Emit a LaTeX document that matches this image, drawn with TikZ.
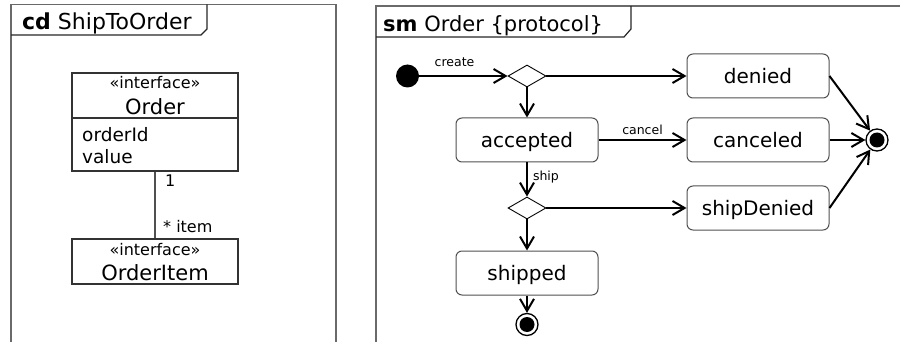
\documentclass[tikz,border=0pt]{standalone}
\usepackage{fontspec}
\setmainfont{DejaVu Sans}
\usetikzlibrary{arrows.meta,shapes.geometric}
\definecolor{framegray}{HTML}{6A6A6A}
\definecolor{boxgray}{HTML}{505050}
\newcommand\fsz[1]{\fontsize{#1}{#1}\selectfont}

\begin{document}
\begin{tikzpicture}[x=1pt,y=-1pt,
  frameline/.style={draw=framegray,line width=1.6pt},
  tabline/.style={draw=black!85,line width=1.2pt},
  titletext/.style={anchor=base west,inner sep=0pt,font=\fsz{21}},
  classbox/.style={draw=black!80,line width=1.2pt,minimum width=166pt,inner sep=0pt},
  ctext/.style={anchor=base,inner sep=0pt},
  atext/.style={anchor=base west,inner sep=0pt,font=\fsz{18.5}},
  stereo/.style={ctext,font=\fsz{16}},
  cname/.style={ctext,font=\fsz{21}},
  mult/.style={anchor=base west,inner sep=0pt,font=\fsz{16}},
  assoc/.style={draw=boxgray,line width=1.2pt},
  statebox/.style={draw=boxgray,line width=1pt,rounded corners=6pt,minimum width=142pt,minimum height=44pt,inner sep=0pt,text height=15pt,text depth=0pt,font=\fsz{20}},
  choice/.style={diamond,draw=black,line width=0.9pt,minimum width=38pt,minimum height=22pt,inner sep=0pt},
  startstate/.style={circle,fill=black,minimum size=23pt,inner sep=0pt},
  endstate/.style={circle,draw=black,line width=1.3pt,minimum size=22pt,inner sep=0pt},
  trans/.style={draw=black,line width=2pt,-{Straight Barb[length=12pt,width=14pt]}},
  lab/.style={font=\fsz{12.5},inner sep=1pt},
]
\useasboundingbox (0,0) rectangle (900,342);

% ---- class diagram frame ----
\draw[frameline] (11,342) -- (11,4.5) -- (336,4.5) -- (336,342);
\draw[tabline] (207,4.5) -- (207,29) -- (201,35) -- (11,35);
\node[titletext,font=\fsz{22}] (cdtitle) at (22,30) {\textbf{cd} ShipToOrder};

% Order interface
\node[classbox,minimum height=45pt] (orderhead) at (155,95.5) {};
\node[classbox,minimum height=53pt] (orderattr) at (155,144.5) {};
\node[stereo] (ordster) at (155,89) {«interface»};
\node[cname] (ordname) at (155,115) {Order};
\node[atext] (attrid) at (82,142) {orderId};
\node[atext] (attrval) at (82,164) {value};

% OrderItem interface
\node[classbox,minimum height=45pt] (item) at (155,261.5) {};
\node[stereo] (itemster) at (155,255) {«interface»};
\node[cname] (itemname) at (155,280) {OrderItem};

% association
\draw[assoc] (orderattr.south) -- (item.north);
\node[mult] (multone) at (165,186) {1};
\node[mult] (multmany) at (163,232) {* item};

% ---- state machine frame ----
\draw[frameline] (376,342) -- (376,6) -- (900,6);
\draw[tabline] (631,6) -- (631,29) -- (624,37) -- (376,37);
\node[titletext] (smtitle) at (383,32) {\textbf{sm} Order \{protocol\}};

\node[startstate] (init) at (407.5,76) {};
\node[choice] (d1) at (527,76) {};
\node[statebox] (denied) at (758,76) {denied};
\node[statebox] (accepted) at (527,140) {accepted};
\node[statebox] (canceled) at (758,140) {canceled};
\node[endstate] (fin1) at (877,140) {};
\fill (fin1.center) circle (7.5pt);
\node[choice] (d2) at (527,208) {};
\node[statebox] (shipDenied) at (758,208) {shipDenied};
\node[statebox] (shipped) at (527,273) {shipped};
\node[endstate] (fin2) at (527,324.5) {};
\fill (fin2.center) circle (7.5pt);

% transitions
\draw[trans] (init) -- node[lab,above=7pt,pos=0.4] (lcreate) {create} (d1.west);
\draw[trans] (d1.east) -- (denied.west);
\draw[trans] (d1.south) -- (accepted.north);
\draw[trans] (accepted) -- node[lab,above=3pt] (lcancel) {cancel} (canceled);
\draw[trans] (accepted.south) -- node[lab,anchor=west,pos=0.43,xshift=4pt] (lship) {ship} (d2.north);
\draw[trans] (d2.east) -- (shipDenied.west);
\draw[trans] (d2.south) -- (shipped.north);
\draw[trans] (shipped.south) -- (fin2);
\draw[trans] (denied.east) -- (fin1);
\draw[trans] (canceled.east) -- (fin1);
\draw[trans] (shipDenied.east) -- (fin1);
\end{tikzpicture}
\end{document}
